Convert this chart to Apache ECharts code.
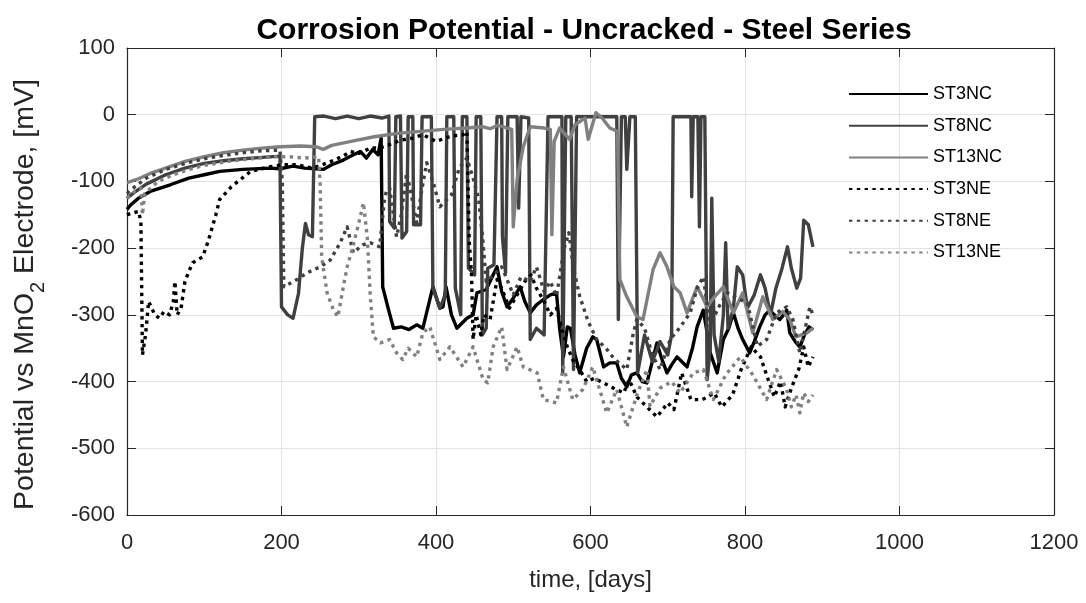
<!DOCTYPE html>
<html><head><meta charset="utf-8">
<script src="https://cdn.jsdelivr.net/npm/echarts@6/dist/echarts.min.js"></script>
<style>html,body{margin:0;padding:0;background:#fff}#c{width:1086px;height:603px}</style>
</head><body><div id="c"></div>
<script>
const seriesNames = ['ST3NC','ST8NC','ST13NC','ST3NE','ST8NE','ST13NE'];
const xTicks = [0,200,400,600,800,1000,1200];
const yTicks = [-600,-500,-400,-300,-200,-100,0,100];

const st3nc = [[0,-142],[5,-135],[15,-125],[30,-115],[56,-105],[80,-95],[100,-90],[120,-85],[150,-82],[185,-80],[198,-81],[215,-77],[230,-80],[254,-82],[265,-75],[280,-68],[290,-62],[302,-55],[310,-65],[318,-52],[325,-60],[329,-35],[331,-258],[338,-290],[345,-320],[355,-318],[365,-322],[375,-315],[383,-320],[396,-258],[405,-290],[409,-288],[413,-258],[420,-300],[427,-320],[440,-305],[448,-300],[453,-267],[465,-262],[479,-228],[485,-265],[492,-288],[500,-275],[509,-258],[515,-280],[522,-297],[530,-285],[539,-277],[548,-270],[556,-267],[560,-320],[565,-363],[570,-318],[574,-320],[580,-360],[586,-387],[595,-350],[603,-333],[608,-337],[617,-378],[625,-372],[634,-372],[640,-395],[647,-408],[653,-390],[660,-387],[667,-400],[673,-402],[680,-370],[686,-342],[692,-365],[699,-387],[705,-375],[712,-363],[718,-370],[725,-378],[732,-350],[738,-318],[746,-293],[750,-320],[755,-357],[764,-387],[772,-337],[779,-320],[785,-297],[791,-320],[797,-337],[806,-357],[812,-340],[819,-318],[826,-300],[832,-293],[838,-300],[845,-307],[850,-300],[854,-293],[858,-327],[865,-340],[871,-348],[877,-330],[883,-318],[888,-322]];

const st8nc = [[0,-125],[10,-116],[25,-104],[50,-90],[75,-80],[100,-73],[125,-69],[150,-66],[175,-64],[198,-62],[200,-288],[208,-300],[215,-305],[222,-268],[227,-200],[231,-163],[235,-180],[240,-183],[243,-3],[255,-2],[270,-6],[285,-2],[300,-6],[315,-2],[330,-5],[339,-2],[340,-160],[346,-170],[348,-3],[354,-2],[356,-185],[362,-175],[364,-3],[370,-3],[371,-165],[380,-165],[382,-3],[394,-3],[396,-260],[405,-290],[412,-270],[414,-3],[423,-3],[425,-260],[432,-300],[434,-3],[440,-3],[442,-230],[450,-240],[452,-3],[458,-3],[460,-330],[465,-320],[467,-230],[475,-225],[479,-3],[485,-3],[486,-183],[490,-237],[493,-3],[505,-3],[507,-140],[510,-3],[520,-5],[522,-337],[530,-320],[540,-330],[545,-3],[563,-3],[564,-387],[568,-3],[575,-3],[578,-382],[582,-3],[600,-3],[610,-3],[620,-3],[634,-3],[636,-307],[640,-3],[645,-3],[647,-82],[651,-3],[658,-3],[661,-387],[670,-330],[680,-370],[690,-340],[700,-360],[705,-330],[707,-3],[720,-3],[730,-3],[731,-123],[733,-3],[739,-3],[741,-168],[743,-3],[748,-3],[751,-397],[755,-350],[757,-125],[760,-330],[766,-370],[772,-300],[775,-192],[778,-320],[785,-290],[790,-228],[797,-240],[803,-290],[812,-270],[820,-240],[826,-260],[833,-300],[840,-260],[848,-230],[855,-198],[860,-230],[867,-260],[872,-245],[876,-158],[882,-165],[888,-198]];

const st13nc = [[0,-102],[5,-100],[15,-96],[30,-88],[50,-80],[75,-70],[100,-63],[125,-57],[150,-53],[175,-50],[198,-48],[225,-47],[245,-48],[254,-52],[265,-46],[290,-40],[320,-33],[350,-28],[380,-25],[410,-22],[440,-20],[460,-18],[470,-21],[480,-16],[498,-22],[500,-168],[505,-97],[513,-48],[522,-18],[540,-20],[548,-22],[550,-180],[553,-40],[560,-20],[573,-37],[580,-15],[593,-5],[597,-37],[607,3],[615,-5],[625,-20],[635,-25],[638,-247],[647,-273],[660,-303],[668,-307],[681,-232],[690,-207],[699,-228],[708,-258],[716,-267],[725,-297],[738,-258],[751,-288],[759,-275],[772,-258],[785,-297],[797,-267],[810,-327],[823,-273],[836,-307],[849,-295],[858,-307],[866,-333],[880,-327],[888,-320]];

const st3ne = [[0,-150],[5,-148],[15,-145],[18,-160],[20,-360],[24,-330],[28,-280],[32,-290],[36,-300],[42,-305],[48,-295],[55,-300],[60,-280],[62,-250],[65,-300],[70,-290],[75,-250],[80,-235],[85,-222],[98,-213],[105,-190],[115,-150],[120,-127],[135,-108],[160,-85],[185,-78],[202,-75],[220,-75],[240,-80],[260,-72],[280,-62],[289,-55],[300,-58],[315,-50],[327,-50],[340,-45],[355,-38],[370,-35],[383,-30],[400,-40],[420,-32],[435,-30],[440,-25],[443,-190],[446,-240],[448,-337],[452,-300],[458,-330],[462,-300],[470,-307],[479,-247],[485,-260],[495,-290],[505,-270],[515,-250],[523,-240],[530,-260],[540,-280],[548,-300],[556,-290],[565,-330],[570,-348],[578,-370],[586,-382],[595,-400],[605,-395],[617,-402],[630,-410],[643,-417],[650,-397],[660,-423],[673,-438],[686,-453],[700,-432],[708,-442],[718,-387],[730,-427],[745,-427],[760,-417],[770,-438],[784,-420],[795,-382],[808,-348],[820,-363],[830,-397],[838,-423],[846,-400],[852,-438],[860,-410],[870,-380],[876,-348],[882,-378],[888,-363]];

const st8ne = [[0,-118],[10,-108],[25,-95],[50,-82],[75,-73],[100,-66],[125,-61],[150,-57],[175,-54],[198,-53],[201,-100],[203,-258],[220,-247],[233,-237],[250,-228],[263,-218],[276,-192],[285,-168],[293,-207],[305,-195],[315,-192],[327,-198],[333,-130],[336,-113],[340,-110],[349,-183],[355,-150],[362,-87],[368,-120],[375,-162],[382,-110],[388,-72],[396,-100],[405,-138],[420,-120],[430,-80],[440,-65],[448,-95],[455,-125],[460,-180],[465,-250],[475,-240],[485,-228],[492,-247],[500,-270],[510,-243],[522,-250],[530,-228],[540,-265],[548,-250],[556,-272],[566,-200],[572,-177],[578,-230],[586,-272],[597,-310],[608,-337],[620,-350],[630,-365],[647,-382],[655,-330],[660,-307],[670,-320],[680,-360],[690,-382],[703,-337],[715,-320],[729,-297],[738,-260],[746,-243],[755,-318],[765,-290],[777,-267],[790,-275],[803,-282],[816,-347],[828,-337],[841,-297],[854,-288],[862,-307],[871,-357],[878,-320],[884,-288],[888,-300]];

const st13ne = [[0,-125],[10,-115],[18,-110],[20,-150],[23,-118],[40,-100],[60,-90],[80,-82],[100,-76],[130,-70],[160,-66],[190,-63],[210,-63],[230,-65],[248,-63],[250,-102],[252,-213],[259,-267],[267,-292],[273,-303],[280,-258],[285,-228],[292,-200],[302,-153],[306,-132],[311,-183],[315,-273],[319,-333],[328,-342],[340,-337],[349,-357],[357,-367],[364,-350],[375,-363],[383,-327],[392,-318],[405,-367],[418,-348],[435,-378],[448,-348],[461,-397],[467,-402],[474,-348],[485,-318],[492,-382],[505,-348],[513,-378],[531,-387],[539,-427],[556,-432],[565,-378],[577,-427],[590,-412],[603,-378],[621,-447],[634,-412],[647,-468],[660,-420],[673,-382],[677,-437],[690,-410],[705,-400],[716,-417],[733,-387],[746,-382],[759,-427],[775,-390],[794,-363],[810,-390],[828,-427],[841,-382],[854,-412],[860,-438],[866,-420],[871,-447],[876,-417],[882,-430],[888,-420]];

const seriesData = [st3nc, st8nc, st13nc, st3ne, st8ne, st13ne];
const seriesColors = ['#000000','#404040','#808080','#000000','#404040','#808080'];
const seriesDotted = [false,false,false,true,true,true];

const FF = '"Liberation Sans", Arial, Helvetica, sans-serif';
const AX = '#262626';
const chart = echarts.init(document.getElementById('c'), null, {renderer:'canvas'});

const baseX = {type:'value', min:0, max:1200, interval:200};
const baseY = {type:'value', min:-600, max:100, interval:100};
const option = {
  animation:false,
  backgroundColor:'#ffffff',
  title:{text:'Corrosion Potential - Uncracked - Steel Series', left:579, textAlign:'center', top:11,
    textStyle:{fontFamily:FF, fontSize:30, fontWeight:'bold', color:'#000'}},
  grid:{left:127, right:32, top:48, bottom:88, containLabel:false},
  legend:{orient:'vertical', left:848, top:85, itemWidth:79, itemHeight:14, itemGap:13.7, padding:0,
    itemStyle:{opacity:0},
    data:seriesNames, textStyle:{fontFamily:FF, fontSize:18, color:'#000', lineHeight:18}},
  xAxis:[
    Object.assign({}, baseX, {position:'bottom',
      axisLine:{show:true, onZero:false, lineStyle:{color:AX, width:1.2}},
      axisTick:{show:true, inside:true, length:9, lineStyle:{color:AX}},
      axisLabel:{fontFamily:FF, fontSize:22, color:AX, margin:17, formatter:v=>String(v)},
      splitLine:{show:true, lineStyle:{color:'#e3e3e3', width:1}},
      name:'time, [days]', nameLocation:'middle', nameGap:53,
      nameTextStyle:{fontFamily:FF, fontSize:24, color:AX}}),
    Object.assign({}, baseX, {position:'top',
      axisLine:{show:true, onZero:false, lineStyle:{color:AX, width:1.2}},
      axisTick:{show:true, inside:true, length:9, lineStyle:{color:AX}},
      axisLabel:{show:false}, splitLine:{show:false}})
  ],
  yAxis:[
    Object.assign({}, baseY, {position:'left',
      axisLine:{show:true, onZero:false, lineStyle:{color:AX, width:1.2}},
      axisTick:{show:true, inside:true, length:9, lineStyle:{color:AX}},
      axisLabel:{fontFamily:FF, fontSize:22, color:AX, margin:12, formatter:v=>String(v)},
      splitLine:{show:true, lineStyle:{color:'#e3e3e3', width:1}},
      name:'{a|Potential vs MnO}{s|2}{a| Electrode, [mV]}', nameLocation:'middle', nameGap:79,
      nameTextStyle:{fontFamily:FF, color:AX, padding:[0,26,0,0], rich:{
        a:{fontFamily:FF, fontSize:28.5, color:AX, verticalAlign:'bottom', padding:[0,0,8,0]},
        s:{fontFamily:FF, fontSize:20, color:AX, verticalAlign:'bottom'}}}}),
    Object.assign({}, baseY, {position:'right',
      axisLine:{show:true, onZero:false, lineStyle:{color:AX, width:1.2}},
      axisTick:{show:true, inside:true, length:9, lineStyle:{color:AX}},
      axisLabel:{show:false}, splitLine:{show:false}})
  ],
  series: seriesNames.map((n,i)=>({
    name:n, type:'line', xAxisIndex:0, yAxisIndex:0, data:seriesData[i],
    showSymbol:false, symbol:'none', smooth:false,
    lineStyle:{color:seriesColors[i], width:3.4, type: seriesDotted[i] ? [3.4,4.4] : 'solid', cap:'butt', join:'round'},
    itemStyle:{color:seriesColors[i]},
    emphasis:{disabled:true}
  }))
};
chart.setOption(option);
</script>
</body></html>
